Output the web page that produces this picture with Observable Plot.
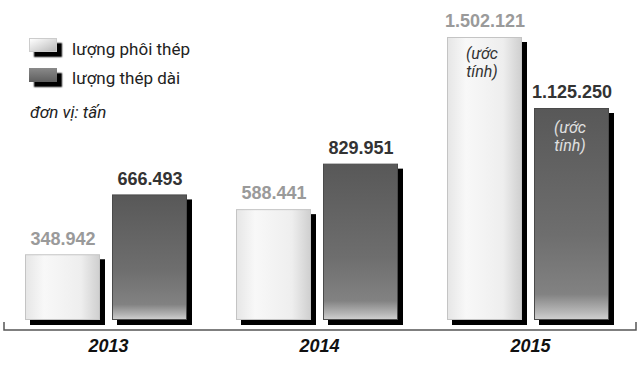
<!DOCTYPE html>
<html><head><meta charset="utf-8">
<script src="https://cdn.jsdelivr.net/npm/d3@7"></script>
<script src="https://cdn.jsdelivr.net/npm/@observablehq/plot@0.6"></script>
<style>
html,body{margin:0;padding:0;background:#fff;}
#wrap{position:relative;width:640px;height:366px;overflow:hidden;background:#fff;}
#wrap svg{position:absolute;left:0;top:0;}
.sw{position:absolute;left:29px;width:28px;height:14px;box-shadow:5px 5px 1.5px #000;}
.sw.light{background:linear-gradient(to bottom right,#ffffff,#d6d6d6 60%,#b8b8b8);border:1px solid #ccc;box-sizing:border-box;}
.sw.dark{background:linear-gradient(to bottom,#8a8a8a,#5e5e5e);}
.lt{position:absolute;left:72px;font-family:Roboto,'Liberation Sans',sans-serif;font-size:17px;line-height:20px;color:#222;white-space:nowrap;}
.unit{position:absolute;left:30px;font-family:Roboto,'Liberation Sans',sans-serif;font-style:italic;font-size:17px;line-height:20px;color:#222;white-space:nowrap;}
</style></head><body><div id="wrap"></div>
<script>
const years = ["2013", "2014", "2015"];
const seriesKeys = ["phoi", "dai"];
const seriesLabels = ["lượng phôi thép", "lượng thép dài"];
const phoiThep = [348942, 588441, 1502121];
const thepDai = [666493, 829951, 1125250];
const notes = ["", "", "(ước\ntính)"];
const unitLabel = "đơn vị: tấn";

const rowsPhoi = years.map((y, i) => ({year: y, series: "phoi", value: phoiThep[i], note: notes[i]}));
const rowsDai = years.map((y, i) => ({year: y, series: "dai", value: thepDai[i], note: notes[i]}));
const allRows = rowsPhoi.concat(rowsDai);

const vn = d3.formatLocale({decimal: ",", thousands: ".", grouping: [3], currency: ["", ""]});
const fmt = vn.format(",d");

const boldFont = "'Liberation Sans', Arial, sans-serif";
const noteFont = "Roboto, 'Liberation Sans', sans-serif";

const chart = Plot.plot({
  width: 640,
  height: 366,
  marginTop: 37,
  marginBottom: 46,
  marginLeft: 25,
  marginRight: 30,
  fx: {domain: years, paddingInner: 0.23, paddingOuter: 0, axis: null, label: null},
  x: {domain: seriesKeys, paddingInner: 0.14, paddingOuter: 0, axis: null, label: null},
  y: {domain: [0, d3.max(allRows, d => d.value)], axis: null, label: null},
  marks: [
    Plot.barY(allRows, {fx: "year", x: "series", y: "value", fill: "#000", dx: 5, dy: 5, ariaLabel: "shadow"}),
    Plot.barY(rowsPhoi, {fx: "year", x: "series", y: "value", fill: "url(#gLight)", stroke: "#c4c4c4", strokeWidth: 1, inset: 0.5}),
    Plot.barY(rowsDai, {fx: "year", x: "series", y: "value", fill: "url(#gDark)", stroke: "#4a4a4a", strokeWidth: 1, inset: 0.5}),
    Plot.text(rowsPhoi, {fx: "year", x: "series", y: "value", text: d => fmt(d.value), dy: -16,
      fill: "#9a9a9a", fontSize: 18, fontWeight: "bold", fontFamily: boldFont}),
    Plot.text(rowsDai, {fx: "year", x: "series", y: "value", text: d => fmt(d.value), dy: -16,
      fill: "#333", fontSize: 18, fontWeight: "bold", fontFamily: boldFont}),
    Plot.text(rowsPhoi.filter(d => d.note), {fx: "year", x: "series", y: "value", text: "note", lineAnchor: "top", dy: 9,
      lineHeight: 1.12, fill: "#333", fontSize: 16, fontStyle: "italic", fontFamily: noteFont, dx: -3}),
    Plot.text(rowsDai.filter(d => d.note), {fx: "year", x: "series", y: "value", text: "note", lineAnchor: "top", dy: 12,
      lineHeight: 1.12, fill: "#e0e0e0", fontSize: 16, fontStyle: "italic", fontFamily: noteFont, dx: -2}),
    Plot.text(years, {fx: d => d, text: d => d, frameAnchor: "bottom", dy: 31, dx: 2,
      fill: "#111", fontSize: 18, fontWeight: "bold", fontStyle: "italic", fontFamily: boldFont})
  ]
});

const svg = d3.select(chart);
const defs = svg.insert("defs", ":first-child");
const gl = defs.append("linearGradient").attr("id", "gLight").attr("x1", 0).attr("x2", 1).attr("y1", 0).attr("y2", 0);
[[0, "#e6e6e6"], [0.25, "#f8f8f8"], [0.75, "#eeeeee"], [1, "#cfcfcf"]].forEach(([o, c]) => gl.append("stop").attr("offset", o).attr("stop-color", c));
const gd = defs.append("linearGradient").attr("id", "gDark").attr("x1", 0).attr("x2", 0).attr("y1", 0).attr("y2", 1);
[[0, "#585858"], [0.6, "#6e6e6e"], [0.88, "#828282"], [0.96, "#b4b4b4"], [1, "#d0d0d0"]].forEach(([o, c]) => gd.append("stop").attr("offset", o).attr("stop-color", c));
const blur = defs.append("filter").attr("id", "blurShadow").attr("x", "-20%").attr("y", "-20%").attr("width", "140%").attr("height", "140%");
blur.append("feGaussianBlur").attr("stdDeviation", 1.2);
svg.selectAll('g[aria-label="shadow"]').attr("filter", "url(#blurShadow)");

// baseline bracket below bars
const y0 = chart.scale("y").apply(0) + 10;
svg.append("path")
  .attr("d", `M4,${y0 - 8}V${y0}H636V${y0 - 8}`)
  .attr("fill", "none").attr("stroke", "#555").attr("stroke-width", 1.5);

const wrap = document.getElementById("wrap");
wrap.appendChild(chart);

// legend
const legendTops = [38, 68];
const textTops = [39, 68];
seriesKeys.forEach((k, i) => {
  const sw = document.createElement("div");
  sw.className = "sw " + (k === "phoi" ? "light" : "dark");
  sw.style.top = legendTops[i] + "px";
  wrap.appendChild(sw);
  const t = document.createElement("div");
  t.className = "lt";
  t.style.top = textTops[i] + "px";
  t.textContent = seriesLabels[i];
  wrap.appendChild(t);
});
const u = document.createElement("div");
u.className = "unit";
u.style.top = "102px";
u.textContent = unitLabel;
wrap.appendChild(u);
</script></body></html>
